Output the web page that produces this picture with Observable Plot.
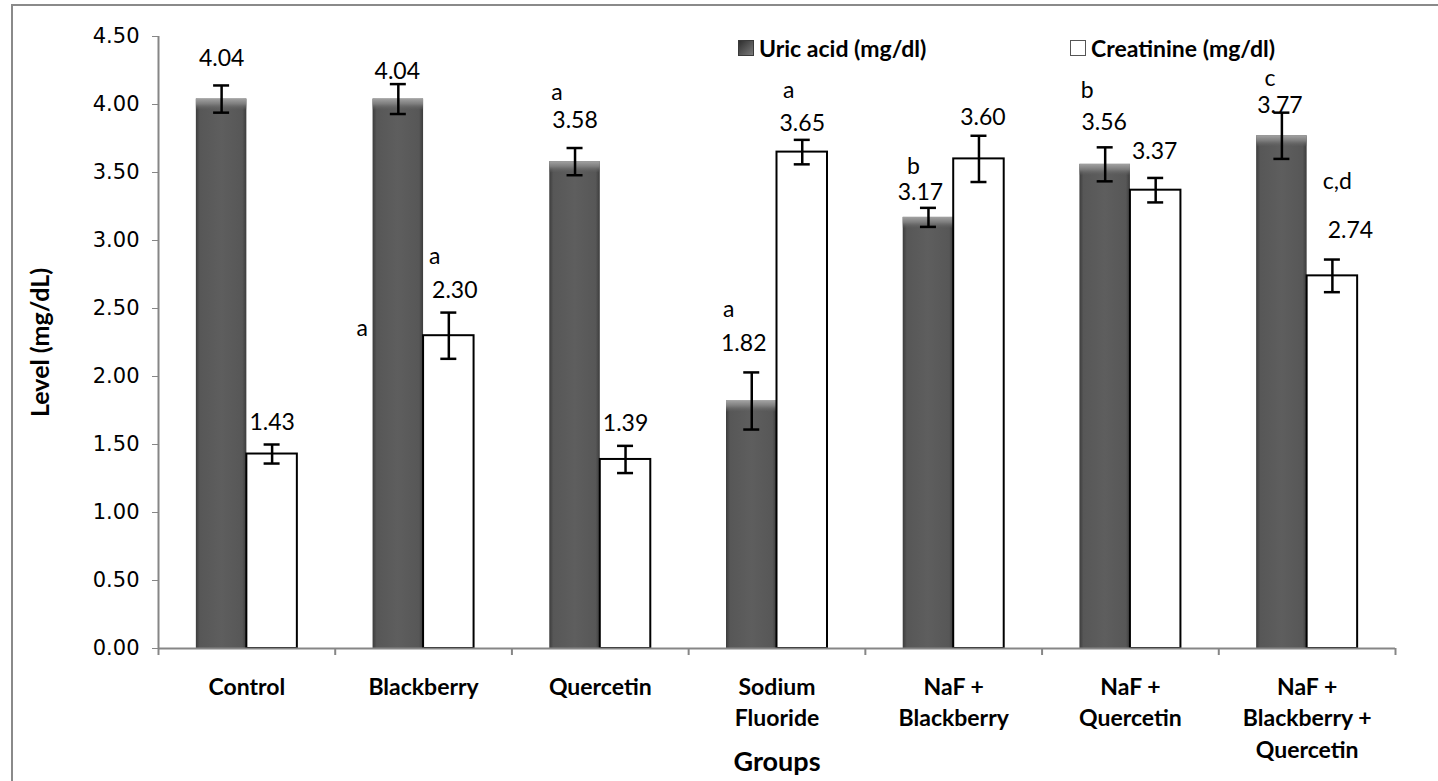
<!DOCTYPE html>
<html>
<head>
<meta charset="utf-8">
<script src="https://cdn.jsdelivr.net/npm/d3@7"></script>
<script src="https://cdn.jsdelivr.net/npm/@observablehq/plot@0.6"></script>
<style>
  body { margin: 0; background: #fff; }
  #wrap { position: relative; width: 1438px; height: 781px; overflow: hidden; background: #fff; }
  #border { position: absolute; left: 11px; top: 4px; width: 1600px; height: 1000px; border: 2.5px solid #8a8a8a; box-sizing: border-box; pointer-events: none; }
  .leg { position: absolute; top: 34px; display: flex; align-items: center; font: bold 23px Lato, sans-serif; color: #000; white-space: nowrap; }
  .sw { display: inline-block; width: 16px; height: 16px; margin-right: 5px; box-sizing: border-box; }
  .sw.dark { background: linear-gradient(135deg, #2f2f2f, #5c5c5c 60%, #7a7a7a); border: 1px solid #3a3a3a; }
  .sw.light { background: #fff; border: 1.5px solid #555; }
</style>
</head>
<body>
<div id="wrap"><div id="border"></div></div>
<script>
// ---- data ----
const groups = ["Control", "Blackberry", "Quercetin", "Sodium\nFluoride", "NaF +\nBlackberry", "NaF +\nQuercetin", "NaF +\nBlackberry +\nQuercetin"];
const seriesNames = ["Uric acid (mg/dl)", "Creatinine (mg/dl)"];
const uricAcid = [4.04, 4.04, 3.58, 1.82, 3.17, 3.56, 3.77];
const uricErr = [0.10, 0.11, 0.10, 0.21, 0.07, 0.125, 0.17];
const creatinine = [1.43, 2.30, 1.39, 3.65, 3.60, 3.37, 2.74];
const creatErr = [0.07, 0.17, 0.10, 0.09, 0.17, 0.09, 0.12];
const uricLetters = ["", "a", "a", "a", "b", "b", "c"];
const creatLetters = ["", "a", "", "a", "", "", "c,d"];
const yTicks = [0, 0.5, 1, 1.5, 2, 2.5, 3, 3.5, 4, 4.5];

// ---- label placement (as placed in the original chart) ----
const uricLabelY = [4.34, 4.24, 3.88, 2.24, 3.355, 3.87, 3.99];
const uricLabelDx = [0, -1, 0, -8, -8, -1, -2];
const creatLabelY = [1.66, 2.63, 1.65, 3.86, 3.907, 3.65, 3.07];
const creatLabelDx = [0, 6, 0, 0, 4, -1, 18];
const uricLetterY = [0, 2.35, 4.09, 2.49, 3.54, 4.10, 4.19];
const uricLetterDx = [0, -36, -18, -23, -15, -18, -12];
const creatLetterY = [0, 2.88, 0, 4.10, 0, 0, 3.43];
const creatLetterDx = [0, -14, 0, -13.5, 0, 0, 5];

// ---- layout ----
const W = 1438, H = 781, mL = 158, mR = 43, mT = 36, mB = 133;
const bandPx = (W - mL - mR) / groups.length;
const yPx = (H - mT - mB) / 4.5;
const barW = 50.5 / bandPx;
const capHalf = 8 / bandPx;
const bevelH = 11 / yPx;

const rows = groups.map((g, i) => ({
  i, g, c: i + 0.5,
  uc: i + 0.5 - barW / 2, cc: i + 0.5 + barW / 2,
  uric: uricAcid[i], ue: uricErr[i], creat: creatinine[i], ce: creatErr[i],
  ul: uricLetters[i], cl: creatLetters[i]
}));

const valueFont = {fontFamily: "Lato", fontSize: 23, fill: "#000"};

const plot = Plot.plot({
  width: W, height: H,
  marginLeft: mL, marginRight: mR, marginTop: mT, marginBottom: mB,
  style: {fontFamily: "Lato", background: "transparent", overflow: "visible"},
  x: {type: "linear", domain: [0, groups.length]},
  y: {domain: [0, 4.5]},
  marks: [
    // uric acid bars (dark, bevelled)
    Plot.rectY(rows, {x1: d => d.c - barW, x2: "c", y1: 0, y2: "uric", fill: "url(#uricFill)"}),
    Plot.rectY(rows, {x1: d => d.c - barW, x2: "c", y1: d => d.uric - bevelH, y2: "uric", fill: "url(#bevelFill)"}),
    // creatinine bars (white, outlined)
    Plot.rectY(rows, {x1: "c", x2: d => d.c + barW, y1: 0, y2: "creat", fill: "white", stroke: "#000", strokeWidth: 2}),
    // axes lines
    Plot.ruleY([0], {stroke: "#868686", strokeWidth: 2}),
    Plot.ruleX([0], {stroke: "#868686", strokeWidth: 2}),
    // error bars
    Plot.ruleX(rows, {x: "uc", y1: d => d.uric - d.ue, y2: d => d.uric + d.ue, stroke: "#000", strokeWidth: 2.5}),
    Plot.ruleY(rows, {y: d => d.uric + d.ue, x1: d => d.uc - capHalf, x2: d => d.uc + capHalf, stroke: "#000", strokeWidth: 2.5}),
    Plot.ruleY(rows, {y: d => d.uric - d.ue, x1: d => d.uc - capHalf, x2: d => d.uc + capHalf, stroke: "#000", strokeWidth: 2.5}),
    Plot.ruleX(rows, {x: "cc", y1: d => d.creat - d.ce, y2: d => d.creat + d.ce, stroke: "#000", strokeWidth: 2.5}),
    Plot.ruleY(rows, {y: d => d.creat + d.ce, x1: d => d.cc - capHalf, x2: d => d.cc + capHalf, stroke: "#000", strokeWidth: 2.5}),
    Plot.ruleY(rows, {y: d => d.creat - d.ce, x1: d => d.cc - capHalf, x2: d => d.cc + capHalf, stroke: "#000", strokeWidth: 2.5}),
    // value labels
    Plot.text(rows, {x: d => d.uc + uricLabelDx[d.i] / bandPx, y: d => uricLabelY[d.i], text: d => d.uric.toFixed(2), ...valueFont}),
    Plot.text(rows, {x: d => d.cc + creatLabelDx[d.i] / bandPx, y: d => creatLabelY[d.i], text: d => d.creat.toFixed(2), ...valueFont}),
    // significance letters
    Plot.text(rows.filter(d => d.ul), {x: d => d.uc + uricLetterDx[d.i] / bandPx, y: d => uricLetterY[d.i], text: "ul", ...valueFont}),
    Plot.text(rows.filter(d => d.cl), {x: d => d.cc + creatLetterDx[d.i] / bandPx, y: d => creatLetterY[d.i], text: "cl", ...valueFont}),
    // y axis
    Plot.axisY({ticks: yTicks, tickFormat: d => d.toFixed(2), tickSize: 6, tickPadding: 13, stroke: "#868686", fill: "#000",
      fontFamily: "DejaVu Sans", fontSize: 21, label: null}),
    Plot.axisY({ticks: [], label: "Level (mg/dL)", labelArrow: "none", labelAnchor: "center", labelOffset: 127,
      fontFamily: "Lato", fontWeight: "bold", fontSize: 25, fill: "#000"}),
    // x axis: boundary ticks and group labels
    Plot.axisX({ticks: d3.range(groups.length + 1), tickSize: 7, tickFormat: () => "", stroke: "#868686", strokeWidth: 2, label: null}),
    Plot.axisX({ticks: d3.range(groups.length).map(i => i + 0.5), tickSize: 0, tickPadding: 24,
      tickFormat: v => groups[Math.floor(v)], fontFamily: "Lato", fontWeight: "bold", fontSize: 23, lineHeight: 1.37, fill: "#000", label: null}),
    Plot.axisX({ticks: [], label: "Groups", labelArrow: "none", labelAnchor: "center", labelOffset: 122,
      fontFamily: "Lato", fontWeight: "bold", fontSize: 27, fill: "#000"})
  ]
});

// gradients for the dark bars
d3.select(plot).insert("defs", ":first-child").html(`
  <linearGradient id="uricFill" x1="0" x2="1" y1="0" y2="0">
    <stop offset="0" stop-color="#3c3c3c"/>
    <stop offset="0.08" stop-color="#575757"/>
    <stop offset="0.5" stop-color="#5e5e5e"/>
    <stop offset="0.92" stop-color="#575757"/>
    <stop offset="1" stop-color="#3c3c3c"/>
  </linearGradient>
  <linearGradient id="bevelFill" x1="0" x2="0" y1="0" y2="1">
    <stop offset="0" stop-color="#a2a2a2"/>
    <stop offset="0.5" stop-color="#7c7c7c"/>
    <stop offset="1" stop-color="#5e5e5e" stop-opacity="0.2"/>
  </linearGradient>`);

const wrap = document.getElementById("wrap");
wrap.insertBefore(plot, wrap.firstChild);

// legend
const legPos = [738, 1070];
seriesNames.forEach((name, k) => {
  const el = document.createElement("div");
  el.className = "leg";
  el.style.left = legPos[k] + "px";
  el.innerHTML = `<span class="sw ${k === 0 ? "dark" : "light"}"></span>`;
  el.appendChild(document.createTextNode(name));
  wrap.appendChild(el);
});
</script>
</body>
</html>
